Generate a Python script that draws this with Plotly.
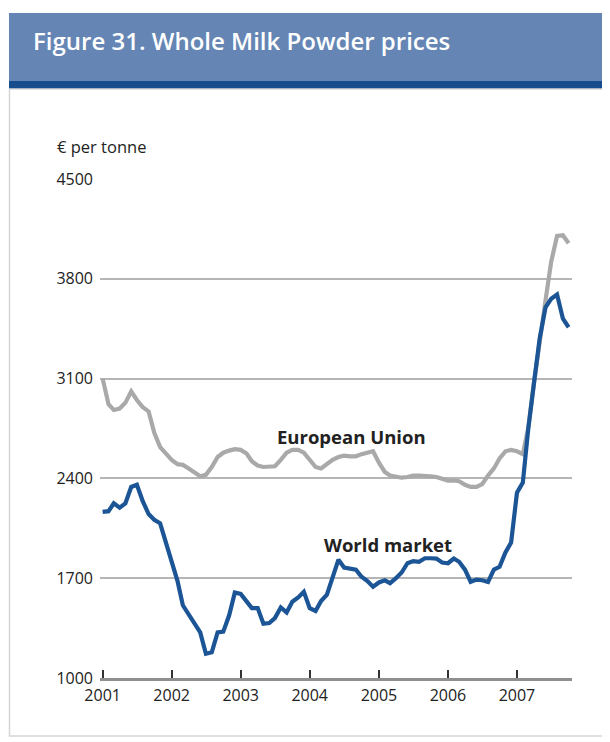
import pandas as pd
import plotly.graph_objects as go

# ---- data (monthly, Jan 2001 - Oct 2007), EUR per tonne ----
months = pd.date_range("2001-01-01", "2007-10-01", freq="MS")

eu_prices = [
    3100, 2920, 2880, 2890, 2930, 3010, 2950, 2900, 2870, 2720, 2620, 2580,   # 2001
    2530, 2500, 2495, 2470, 2440, 2415, 2425, 2480, 2550, 2580, 2595, 2605,   # 2002
    2600, 2575, 2520, 2490, 2480, 2480, 2485, 2530, 2580, 2600, 2600, 2580,   # 2003
    2530, 2480, 2470, 2500, 2530, 2550, 2560, 2555, 2555, 2570, 2580, 2590,   # 2004
    2510, 2445, 2420, 2410, 2405, 2410, 2420, 2420, 2420, 2415, 2410, 2400,   # 2005
    2385, 2385, 2380, 2355, 2340, 2340, 2360, 2420, 2470, 2540, 2590, 2600,   # 2006
    2590, 2570, 2750, 3070, 3380, 3650, 3920, 4100, 4105, 4050,               # 2007
]

world_prices = [
    2165, 2170, 2225, 2195, 2225, 2340, 2355, 2240, 2150, 2110, 2085, 1960,   # 2001
    1830, 1680, 1510, 1450, 1390, 1320, 1170, 1180, 1320, 1325, 1440, 1600,   # 2002
    1590, 1540, 1490, 1490, 1380, 1385, 1420, 1495, 1460, 1535, 1565, 1605,   # 2003
    1490, 1470, 1540, 1585, 1700, 1830, 1775, 1770, 1760, 1710, 1680, 1640,   # 2004
    1670, 1685, 1665, 1700, 1740, 1805, 1820, 1815, 1840, 1840, 1838, 1810,   # 2005
    1805, 1838, 1815, 1760, 1675, 1690, 1686, 1674, 1760, 1780, 1880, 1950,   # 2006
    2300, 2370, 2740, 3070, 3380, 3600, 3660, 3690, 3520, 3460,               # 2007
]

year_ticks = ["2001", "2002", "2003", "2004", "2005", "2006", "2007"]
y_ticks = [1000, 1700, 2400, 3100, 3800, 4500]

title_text = "Figure 31. Whole Milk Powder prices"
y_unit = "€ per tonne"
eu_label = "European Union"
world_label = "World market"

# ---- layout geometry (page pixels; page body has an 8px margin) ----
OFF = 8
W, H = 610 - OFF, 742 - OFF
PLOT_L, PLOT_R, PLOT_T, PLOT_B = 100, 572, 179, 678
ML = PLOT_L - OFF
MT = PLOT_T - OFF
MR = W + OFF - PLOT_R
MB = H + OFF - PLOT_B
PW, PH = W - ML - MR, H - MT - MB


def px(x):
    return (x - OFF - ML) / PW


def py(y):
    return (H + OFF - MB - y) / PH


FONT = "Open Sans"
BLUE = "#1b5596"
GREY = "#a9a9a9"
TXT = "#222222"

fig = go.Figure()
fig.add_trace(go.Scatter(x=months, y=eu_prices, mode="lines",
                         line=dict(color=GREY, width=4.2), name=eu_label,
                         hoverinfo="x+y"))
fig.add_trace(go.Scatter(x=months, y=world_prices, mode="lines",
                         line=dict(color=BLUE, width=4.2), name=world_label,
                         hoverinfo="x+y"))

shapes = [
    # header band
    dict(type="rect", xref="paper", yref="paper", x0=px(9), x1=px(640),
         y0=py(81), y1=py(13), fillcolor="#6586b4", line=dict(width=0), layer="below"),
    dict(type="rect", xref="paper", yref="paper", x0=px(9), x1=px(640),
         y0=py(89), y1=py(81), fillcolor="#164c8c", line=dict(width=0), layer="below"),
    # frame
    dict(type="rect", xref="paper", yref="paper", x0=px(9.5), x1=px(640),
         y0=py(736), y1=py(89), fillcolor="rgba(0,0,0,0)",
         line=dict(color="#d6d6d6", width=1.5), layer="below"),
]

annotations = [
    dict(text=title_text, xref="paper", yref="paper", x=px(31), y=py(40),
         xanchor="left", yanchor="middle", showarrow=False,
         font=dict(family=FONT, size=24, color="white", weight=600)),
    dict(text=y_unit, xref="paper", yref="paper", x=px(55), y=py(147),
         xanchor="left", yanchor="middle", showarrow=False,
         font=dict(family=FONT, size=16.5, color=TXT)),
    dict(text=eu_label, xref="x", yref="y", x="2004-08-07", y=2694,
         xanchor="center", yanchor="middle", showarrow=False,
         font=dict(family=FONT, size=18.5, color=TXT, weight="bold")),
    dict(text=world_label, xref="x", yref="y", x="2005-02-18", y=1938,
         xanchor="center", yanchor="middle", showarrow=False,
         font=dict(family=FONT, size=18.5, color=TXT, weight="bold")),
]

fig.update_layout(
    width=W, height=H,
    margin=dict(l=ML, r=MR, t=MT, b=MB, pad=0),
    paper_bgcolor="white", plot_bgcolor="white",
    showlegend=False,
    shapes=shapes, annotations=annotations,
    font=dict(family=FONT, size=16, color=TXT),
)

fig.update_xaxes(
    type="date",
    range=["2000-12-18", "2007-10-19"],
    tickvals=[f"{y}-01-01" for y in year_ticks],
    ticktext=year_ticks,
    ticks="inside", ticklen=8, tickwidth=2, tickcolor="#333",
    showline=True, linecolor="#8f8f8f", linewidth=3,
    showgrid=False, zeroline=False,
    tickfont=dict(family=FONT, size=16, color=TXT),
    ticklabelstandoff=1,
)
fig.update_yaxes(
    range=[1000, 4500],
    tickvals=y_ticks,
    ticktext=[str(v) for v in y_ticks],
    showgrid=True, gridcolor="#b5b5b5", gridwidth=1.5,
    zeroline=False, showline=False, ticks="",
    tickfont=dict(family=FONT, size=16, color=TXT),
    ticklabelstandoff=6,
)

fig.write_html("out.html")
